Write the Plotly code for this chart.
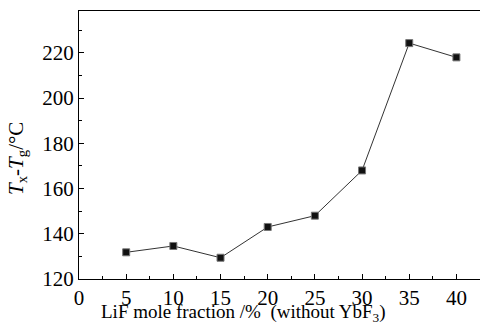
import plotly.graph_objects as go

lif = [5, 10, 15, 20, 25, 30, 35, 40]
dT = [131.8, 134.6, 129.4, 143.0, 148.0, 168.0, 224.3, 218.0]
x_ticks = [0, 5, 10, 15, 20, 25, 30, 35, 40]
y_ticks = [120, 140, 160, 180, 200, 220]
x_minor = [2.5, 7.5, 12.5, 17.5, 22.5, 27.5, 32.5, 37.5]
y_minor = [130, 150, 170, 190, 210, 230]

font = "Liberation Serif"

fig = go.Figure()
fig.add_trace(go.Scatter(
    x=lif, y=dT, mode="lines+markers",
    line=dict(color="#333333", width=1),
    marker=dict(symbol="square", size=7, color="#111111",
                line=dict(color="#777777", width=1)),
    showlegend=False,
))

fig.update_layout(
    width=480, height=325,
    margin=dict(l=79, r=0, t=11, b=46),
    paper_bgcolor="white", plot_bgcolor="white",
    font=dict(family=font, size=20, color="black"),
    annotations=[
        dict(text="LiF mole fraction /%  (without YbF<sub>3</sub>)",
             xref="paper", yref="paper", x=0.41, y=0, yshift=-34,
             xanchor="center", yanchor="middle", showarrow=False,
             font=dict(family=font, size=19, color="black")),
        dict(text="<i>T</i><sub>x</sub>-<i>T</i><sub>g</sub>/°C",
             xref="paper", yref="paper", x=0, xshift=-62, y=0.448,
             xanchor="center", yanchor="middle", textangle=-90, showarrow=False,
             font=dict(family=font, size=21, color="black")),
    ],
)
fig.update_xaxes(
    range=[0, 42.5], tickmode="array", tickvals=x_ticks, ticks="inside", ticklen=5,
    tickcolor="black", showline=True, linecolor="black", linewidth=1, mirror=True,
    showgrid=False, zeroline=False,
    minor=dict(tickmode="array", tickvals=x_minor, ticks="inside", ticklen=3,
               tickcolor="black", showgrid=False),
    tickfont=dict(family="Liberation Serif", size=21, color="#000000"),
)
fig.update_yaxes(
    range=[120, 238.5], tickmode="array", tickvals=y_ticks, ticks="inside", ticklen=5,
    tickcolor="black", showline=True, linecolor="black", linewidth=1,
    showgrid=False, zeroline=False,
    minor=dict(tickmode="array", tickvals=y_minor, ticks="inside", ticklen=3,
               tickcolor="black", showgrid=False),
    tickfont=dict(family="Liberation Serif", size=21, color="#000000"),
)

fig.write_html("out.html")
